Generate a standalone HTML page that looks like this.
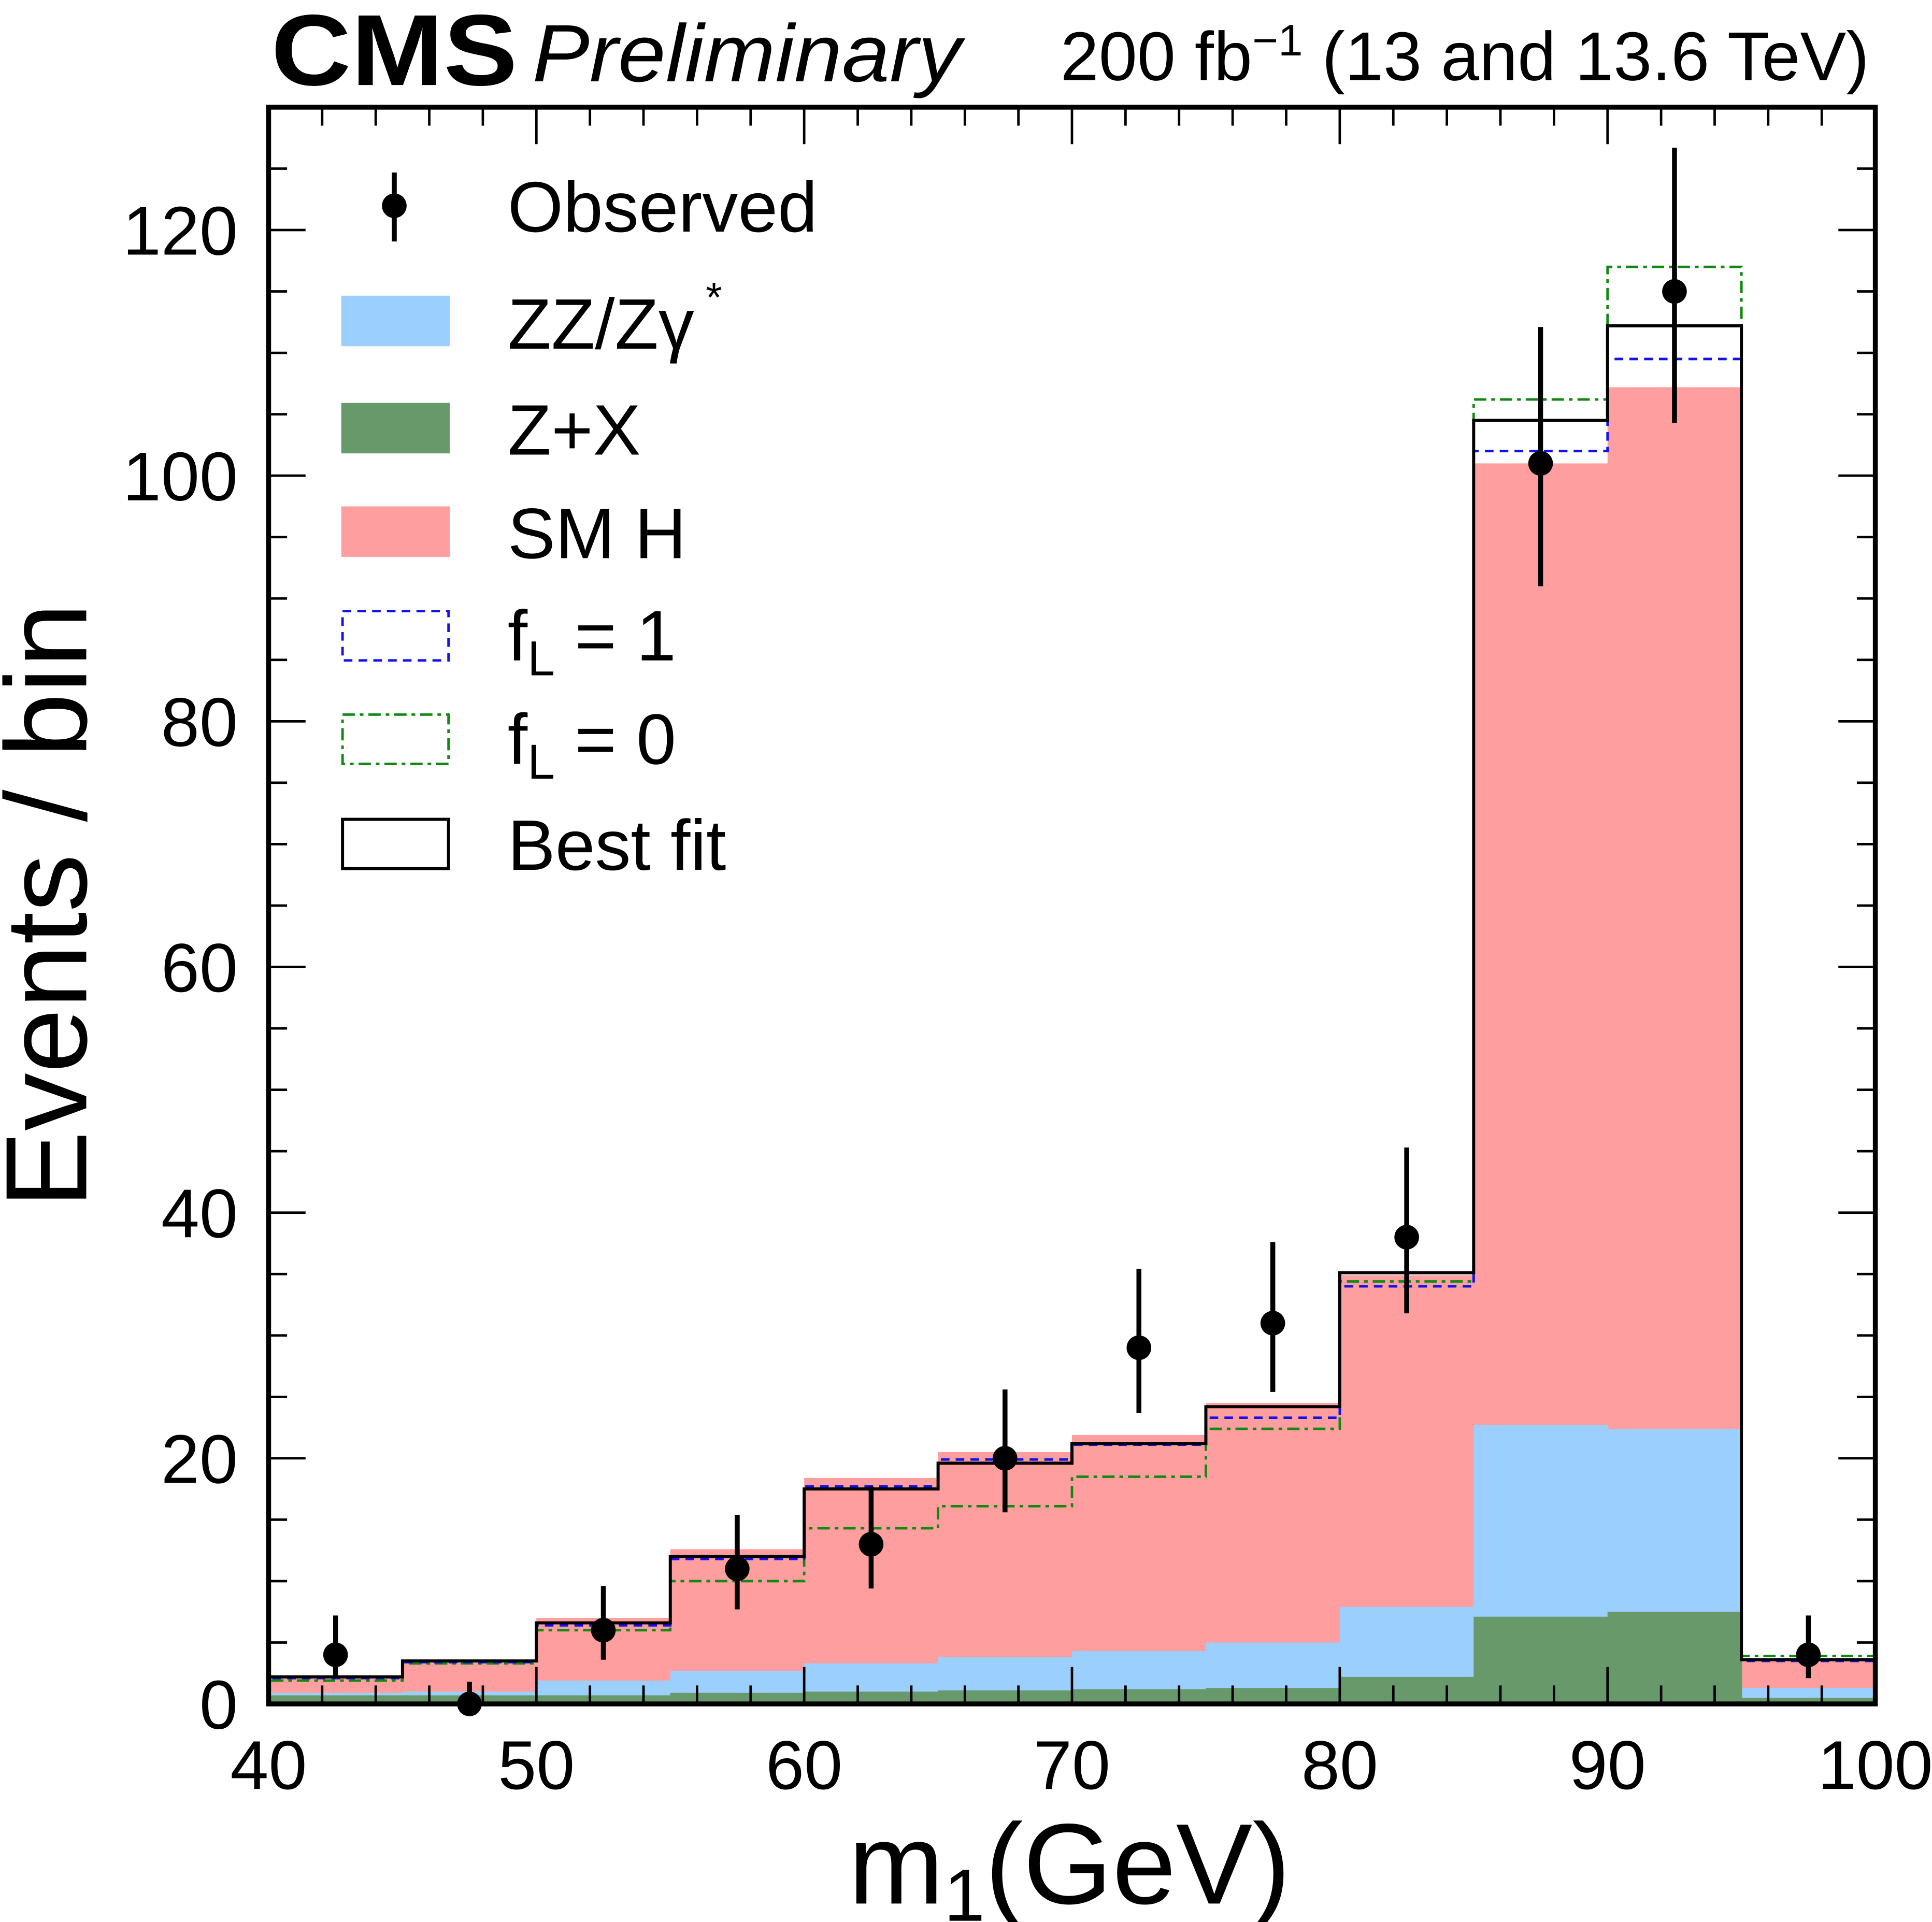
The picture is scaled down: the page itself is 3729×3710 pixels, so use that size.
<!DOCTYPE html>
<html><head><meta charset="utf-8"><style>html,body{margin:0;padding:0;background:#fff}svg{display:block}text{font-family:"Liberation Sans",sans-serif}</style></head>
<body>
<svg id="c" width="3729" height="3710" viewBox="0 0 1568 1560" preserveAspectRatio="none" xmlns="http://www.w3.org/2000/svg">
<g id="marks"></g>
<g id="axes"></g>
</svg>
<script>
const binEdges=[40,45,50,55,60,65,70,75,80,85,90,95,100];
const zx=[0.7,0.7,0.7,0.9,1.0,1.1,1.2,1.3,2.2,7.1,7.5,0.5];
const zz=[0.9,1.0,1.9,2.7,3.3,3.8,4.3,5.0,7.9,22.7,22.4,1.3];
const smh=[2.3,3.4,7.0,12.6,18.4,20.5,21.9,24.5,34.9,101.0,107.2,3.7];
const bestFit=[2.2,3.5,6.6,12.0,17.5,19.6,21.2,24.2,35.1,104.5,112.2,3.6];
const fL1=[2.1,3.4,6.4,11.8,17.7,19.9,21.1,23.3,34.0,102.0,109.5,3.5];
const fL0=[1.9,3.3,6.0,10.0,14.3,16.1,18.5,22.4,34.4,106.2,117.0,3.9];
const obsX=[42.5,47.5,52.5,57.5,62.5,67.5,72.5,77.5,82.5,87.5,92.5,97.5];
const obsY=[4,0,6,11,13,20,29,31,38,101,115,4];
const obsUp=[3.2,1.8,3.6,4.4,4.7,5.6,6.4,6.6,7.3,11.1,11.7,3.2];
const obsDn=[1.9,0,2.4,3.3,3.6,4.4,5.3,5.6,6.2,10.0,10.7,1.9];
const yTicks=[0,20,40,60,80,100,120];
const xTicks=[40,50,60,70,80,90,100];
const L=218,R=1522,T=87,B=1383,yMax=130;
const X=v=>L+(v-40)/60*(R-L);
const Y=v=>B-v/yMax*(B-T);
const NS='http://www.w3.org/2000/svg';
const marks=document.getElementById('marks'),axes=document.getElementById('axes');
function mk(tag,at,par){const e=document.createElementNS(NS,tag);for(const k in at)e.setAttribute(k,at[k]);(par||marks).appendChild(e);return e;}
function fills(vals,color,name){for(let i=0;i<binEdges.length-1;i++){const r=mk('rect',{x:X(binEdges[i]),y:Y(vals[i]),width:X(binEdges[i+1])-X(binEdges[i])+0.5,height:B-Y(vals[i]),fill:color});

}}
fills(smh,'#fe9e9e','smh');fills(zz,'#9bcffd','zz');fills(zx,'#67996a','zx');
function step(vals,color,dash,name,w){let d='M'+X(40)+','+B;for(let i=0;i<vals.length;i++){d+=' L'+X(binEdges[i])+','+Y(vals[i])+' L'+X(binEdges[i+1])+','+Y(vals[i]);}
const p=mk('path',{d:d,fill:'none',stroke:color,'stroke-width':w,'stroke-dasharray':dash});

}
step(fL0,'#118811','10,4,3,4','fl0-line',2);
step(fL1,'#1111ee','7,5','fl1-line',2);
step(bestFit,'#000','none','best-fit-line',2.5);
for(let i=0;i<obsX.length;i++){const g=mk('g',{});


mk('line',{x1:X(obsX[i]),x2:X(obsX[i]),y1:Y(obsY[i]+obsUp[i]),y2:Y(Math.max(0,obsY[i]-obsDn[i])),stroke:'#000','stroke-width':4},g);
mk('circle',{cx:X(obsX[i]),cy:Y(obsY[i]),r:10,fill:'#000'},g);}
mk('rect',{x:L,y:T,width:R-L,height:B-T,fill:'none',stroke:'#000','stroke-width':4},axes);
for(let v=0;v<=yMax;v+=5){const maj=v%20===0,len=maj?30:15;
mk('line',{x1:L,x2:L+len,y1:Y(v),y2:Y(v),stroke:'#000','stroke-width':2},axes);
mk('line',{x1:R,x2:R-len,y1:Y(v),y2:Y(v),stroke:'#000','stroke-width':2},axes);}
for(let v=40;v<=100;v+=2){const maj=v%10===0,len=maj?30:15;
mk('line',{x1:X(v),x2:X(v),y1:B,y2:B-len,stroke:'#000','stroke-width':2},axes);
mk('line',{x1:X(v),x2:X(v),y1:T,y2:T+len,stroke:'#000','stroke-width':2},axes);}
yTicks.forEach(v=>{const t=mk('text',{x:193,y:Y(v)+20,'font-size':56,'text-anchor':'end'},axes);t.textContent=v;

});
xTicks.forEach(v=>{const t=mk('text',{x:X(v),y:1452,'font-size':56,'text-anchor':'middle'},axes);t.textContent=v;

});
</script>
<svg style="position:absolute;left:0;top:0" width="3729" height="3710" viewBox="0 0 1568 1560" preserveAspectRatio="none" xmlns="http://www.w3.org/2000/svg">
<text x="220" y="69" font-size="82" font-weight="bold" textLength="200" lengthAdjust="spacingAndGlyphs">CMS</text>
<text x="432" y="66" font-size="66" font-style="italic" textLength="348" lengthAdjust="spacingAndGlyphs">Preliminary</text>
<text x="1517" y="65" font-size="56" text-anchor="end">200 fb<tspan dy="-20" font-size="36">−1</tspan><tspan dy="20"> (13 and 13.6 TeV)</tspan></text>
<text transform="translate(70,735) rotate(-90)" font-size="94" text-anchor="middle">Events / bin</text>
<text x="868" y="1545" font-size="93" text-anchor="middle">m<tspan dy="14" font-size="60">1</tspan><tspan dy="-14">(GeV)</tspan></text>
<g font-size="58">
<g><line x1="320" y1="140" x2="320" y2="196" stroke="#000" stroke-width="4"/><circle cx="320" cy="167" r="10"/><text x="412" y="188">Observed</text></g>
<g><rect x="277" y="240" width="88" height="41" fill="#9bcffd"/><text x="412" y="283">ZZ/Zγ<tspan dy="-30" font-size="34"> *</tspan></text></g>
<g><rect x="277" y="327" width="88" height="41" fill="#67996a"/><text x="412" y="369">Z+X</text></g>
<g><rect x="277" y="411" width="88" height="41" fill="#fe9e9e"/><text x="412" y="453">SM H</text></g>
<g><rect x="278" y="496" width="86" height="40" fill="none" stroke="#1111ee" stroke-width="2" stroke-dasharray="7,5"/><text x="412" y="536">f<tspan dy="12" font-size="40">L</tspan><tspan dy="-12"> = 1</tspan></text></g>
<g><rect x="278" y="580" width="86" height="40" fill="none" stroke="#118811" stroke-width="2" stroke-dasharray="10,4,3,4"/><text x="412" y="620">f<tspan dy="12" font-size="40">L</tspan><tspan dy="-12"> = 0</tspan></text></g>
<g><rect x="278" y="665" width="86" height="40" fill="none" stroke="#000" stroke-width="2.5"/><text x="412" y="706">Best fit</text></g>
</g>
</svg>
</body></html>
